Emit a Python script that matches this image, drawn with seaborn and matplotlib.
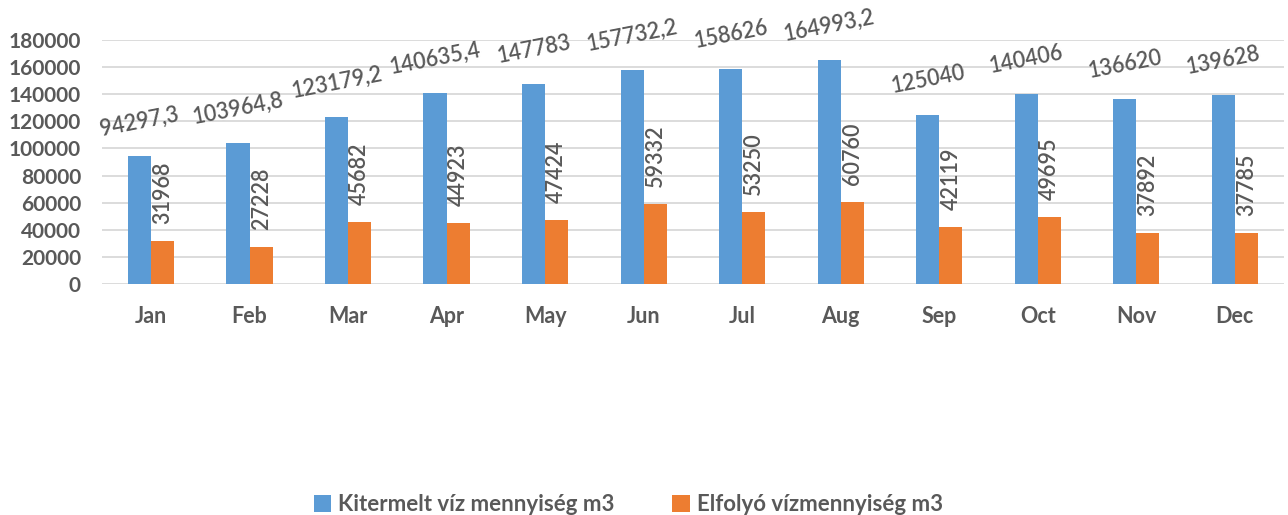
import pandas as pd
import numpy as np
import matplotlib
matplotlib.use("Agg")
import matplotlib.pyplot as plt
import seaborn as sns

months = ["Jan", "Feb", "Mar", "Apr", "May", "Jun", "Jul", "Aug", "Sep", "Oct", "Nov", "Dec"]
kitermelt = [94297.3, 103964.8, 123179.2, 140635.4, 147783, 157732.2,
             158626, 164993.2, 125040, 140406, 136620, 139628]
elfolyo = [31968, 27228, 45682, 44923, 47424, 59332,
           53250, 60760, 42119, 49695, 37892, 37785]
series_names = ["Kitermelt víz mennyiség m3", "Elfolyó vízmennyiség m3"]
y_ticks = list(range(0, 180001, 20000))

colors = ["#5B9BD5", "#ED7D31"]
text_color = "#595959"

df = pd.DataFrame({
    "month": months * 2,
    "value": kitermelt + elfolyo,
    "series": [series_names[0]] * len(months) + [series_names[1]] * len(months),
})


def fmt(v):
    s = f"{v:.1f}"
    if s.endswith(".0"):
        s = s[:-2]
    return s.replace(".", ",")


sns.set_style("white")
plt.rcParams["font.family"] = ["Lato", "DejaVu Sans"]

fig = plt.figure(figsize=(12.88, 5.15), dpi=100)
ax = fig.add_axes([0.079, 0.4485, 0.918, 0.4737])

sns.barplot(data=df, x="month", y="value", hue="series", palette=colors,
            saturation=1, width=0.47, linewidth=0, ax=ax, legend=True)

ax.set_ylim(0, 180000)
ax.set_yticks(y_ticks)
ax.set_yticklabels([str(t) for t in y_ticks])
ax.yaxis.grid(True, color="#D9D9D9", linewidth=1.3)
ax.set_axisbelow(True)
for sp in ax.spines.values():
    sp.set_visible(False)
ax.set_xlabel("")
ax.set_ylabel("")
ax.tick_params(axis="y", length=0, pad=15, labelsize=15, labelcolor=text_color)
ax.tick_params(axis="x", length=0, pad=16, labelsize=15.5, labelcolor=text_color)
for lab in ax.get_xticklabels() + ax.get_yticklabels():
    lab.set_fontweight("bold")

# value labels
blue, orange = ax.containers[0], ax.containers[1]
for bar, v in zip(blue, kitermelt):
    ax.annotate(fmt(v), (bar.get_x() + bar.get_width() / 2, bar.get_height()),
                xytext=(0, 25), textcoords="offset points", ha="center", va="center",
                rotation=11, fontsize=15.5, fontweight="semibold", color=text_color)
for bar, v in zip(orange, elfolyo):
    ax.annotate(fmt(v), (bar.get_x() + bar.get_width() / 2, bar.get_height()),
                xytext=(0, 12), textcoords="offset points", ha="center", va="bottom",
                rotation=90, fontsize=15.5, fontweight="semibold", color=text_color)

handles, labels = ax.get_legend_handles_labels()
ax.get_legend().remove()
leg = fig.legend(handles, labels, loc="center", bbox_to_anchor=(0.4876, 0.02), ncol=2,
                 frameon=False, handlelength=0.8, handleheight=0.8, handletextpad=0.3,
                 columnspacing=2.6, prop={"size": 16, "weight": "bold"})
for t in leg.get_texts():
    t.set_color(text_color)

fig.savefig("out.png", dpi=100)
